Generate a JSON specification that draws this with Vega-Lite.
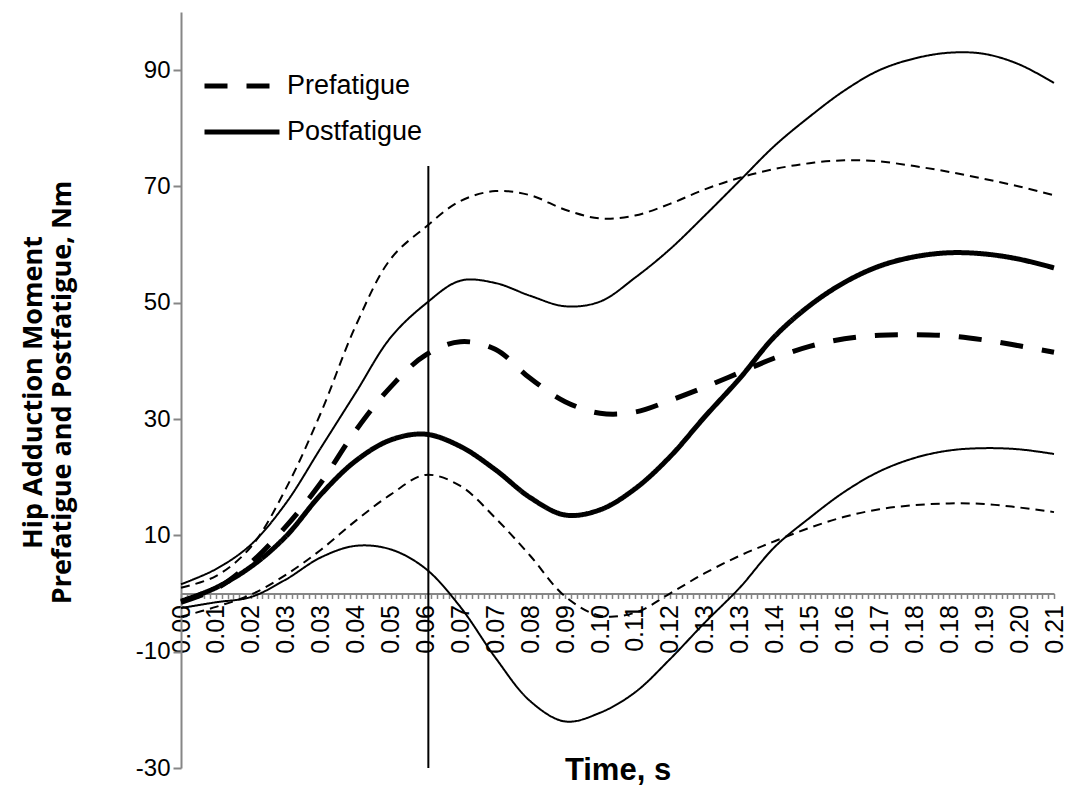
{
  "$schema": "https://vega.github.io/schema/vega-lite/v6.json",
  "width": 873,
  "height": 756,
  "autosize": {"type": "none"},
  "padding": {"left": 181, "top": 12, "right": 12, "bottom": 20},
  "background": "white",
  "config": {"view": {"stroke": null}, "font": "Liberation Sans"},
  "datasets": {
    "curves": [
      {"t": 0, "Prefatigue": -1.5, "Postfatigue": -1.3, "preHi": 1, "preLo": -4, "postHi": 1.6, "postLo": -2.5},
      {"t": 6, "Prefatigue": 0.8, "Postfatigue": 1, "preHi": 3, "preLo": -2.3, "postHi": 4.2, "postLo": -1.5},
      {"t": 12, "Prefatigue": 5.3, "Postfatigue": 4.6, "preHi": 8, "preLo": -0.2, "postHi": 8.4, "postLo": -0.6},
      {"t": 18, "Prefatigue": 11.5, "Postfatigue": 9.8, "preHi": 18, "preLo": 3.2, "postHi": 15.5, "postLo": 2.4},
      {"t": 24, "Prefatigue": 19, "Postfatigue": 17, "preHi": 31, "preLo": 7.5, "postHi": 25, "postLo": 6.2},
      {"t": 30, "Prefatigue": 28, "Postfatigue": 22.8, "preHi": 46, "preLo": 12.5, "postHi": 34.5, "postLo": 8.2},
      {"t": 36, "Prefatigue": 35.5, "Postfatigue": 26.4, "preHi": 57.5, "preLo": 17, "postHi": 44, "postLo": 7.6},
      {"t": 42, "Prefatigue": 41, "Postfatigue": 27.4, "preHi": 63, "preLo": 20.4, "postHi": 49.8, "postLo": 4.3},
      {"t": 48, "Prefatigue": 43.3, "Postfatigue": 25.3, "preHi": 67.5, "preLo": 18.5, "postHi": 53.8, "postLo": -2.3},
      {"t": 54, "Prefatigue": 42, "Postfatigue": 21.3, "preHi": 69.2, "preLo": 13, "postHi": 53.4, "postLo": -11},
      {"t": 60, "Prefatigue": 37, "Postfatigue": 16.5, "preHi": 68.5, "preLo": 6.5, "postHi": 51.2, "postLo": -18.5},
      {"t": 66, "Prefatigue": 33, "Postfatigue": 13.5, "preHi": 66, "preLo": -0.5, "postHi": 49.4, "postLo": -22},
      {"t": 72, "Prefatigue": 31, "Postfatigue": 14.4, "preHi": 64.5, "preLo": -3.8, "postHi": 50.2, "postLo": -20.5},
      {"t": 78, "Prefatigue": 31.2, "Postfatigue": 18, "preHi": 65, "preLo": -3.3, "postHi": 54.3, "postLo": -17},
      {"t": 84, "Prefatigue": 33.2, "Postfatigue": 23.5, "preHi": 67, "preLo": 0, "postHi": 59.2, "postLo": -11.3},
      {"t": 90, "Prefatigue": 35.5, "Postfatigue": 30.4, "preHi": 69.5, "preLo": 3.5, "postHi": 65, "postLo": -5},
      {"t": 96, "Prefatigue": 38, "Postfatigue": 37, "preHi": 71.5, "preLo": 6.5, "postHi": 71, "postLo": 1},
      {"t": 102, "Prefatigue": 40.5, "Postfatigue": 44.2, "preHi": 73, "preLo": 9, "postHi": 77, "postLo": 8},
      {"t": 108, "Prefatigue": 42.5, "Postfatigue": 49.5, "preHi": 74, "preLo": 11.3, "postHi": 82, "postLo": 13},
      {"t": 114, "Prefatigue": 43.8, "Postfatigue": 53.5, "preHi": 74.5, "preLo": 13.2, "postHi": 86.5, "postLo": 17.5},
      {"t": 120, "Prefatigue": 44.4, "Postfatigue": 56.3, "preHi": 74.3, "preLo": 14.5, "postHi": 90, "postLo": 21},
      {"t": 126, "Prefatigue": 44.5, "Postfatigue": 57.9, "preHi": 73.5, "preLo": 15.2, "postHi": 92, "postLo": 23.3},
      {"t": 132, "Prefatigue": 44.3, "Postfatigue": 58.6, "preHi": 72.5, "preLo": 15.5, "postHi": 93, "postLo": 24.6},
      {"t": 138, "Prefatigue": 43.6, "Postfatigue": 58.4, "preHi": 71.3, "preLo": 15.4, "postHi": 92.8, "postLo": 25},
      {"t": 144, "Prefatigue": 42.6, "Postfatigue": 57.5, "preHi": 70, "preLo": 14.8, "postHi": 91, "postLo": 24.8},
      {"t": 150, "Prefatigue": 41.5, "Postfatigue": 56, "preHi": 68.5, "preLo": 14, "postHi": 87.8, "postLo": 24}
    ],
    "marker": [{"t": 42.5, "v": -30, "v2": 73.5}]
  },
  "encoding": {
    "x": {
      "field": "t",
      "type": "quantitative",
      "scale": {"domain": [0, 150], "nice": false, "zero": false},
      "axis": {
        "values": [0,1,2,3,4,5,6,7,8,9,10,11,12,13,14,15,16,17,18,19,20,21,22,23,24,25,26,27,28,29,30,31,32,33,34,35,36,37,38,39,40,41,42,43,44,45,46,47,48,49,50,51,52,53,54,55,56,57,58,59,60,61,62,63,64,65,66,67,68,69,70,71,72,73,74,75,76,77,78,79,80,81,82,83,84,85,86,87,88,89,90,91,92,93,94,95,96,97,98,99,100,101,102,103,104,105,106,107,108,109,110,111,112,113,114,115,116,117,118,119,120,121,122,123,124,125,126,127,128,129,130,131,132,133,134,135,136,137,138,139,140,141,142,143,144,145,146,147,148,149,150],
        "labelExpr": "datum.value % 6 == 0 ? ['0.00','0.01','0.02','0.03','0.03','0.04','0.05','0.06','0.07','0.07','0.08','0.09','0.10','0.11','0.12','0.13','0.13','0.14','0.15','0.16','0.17','0.18','0.18','0.19','0.20','0.21'][datum.value / 6] : ''",
        "labelAngle": 270,
        "labelFont": "Liberation Sans",
        "labelFontSize": 25,
        "labelColor": "black",
        "labelOverlap": false,
        "labelBound": false,
        "labelFlush": false,
        "labelPadding": 6,
        "tickSize": 5,
        "tickColor": "#868686",
        "tickWidth": 1.5,
        "domainColor": "#868686",
        "domainWidth": 2,
        "grid": false,
        "offset": -174.5,
        "title": "Time, s",
        "titleFont": "Liberation Sans",
        "titleFontSize": 31,
        "titleFontWeight": "bold",
        "titleColor": "black",
        "titleBaseline": "alphabetic",
        "titleY": 186
      }
    },
    "y": {
      "field": "v",
      "type": "quantitative",
      "scale": {"domain": [-30, 100], "nice": false, "zero": false},
      "axis": {
        "values": [-30, -10, 10, 30, 50, 70, 90],
        "labelExpr": "'' + datum.value",
        "grid": false,
        "domainColor": "#868686",
        "domainWidth": 2,
        "tickColor": "#868686",
        "tickWidth": 2,
        "tickSize": 8,
        "labelFont": "Liberation Sans",
        "labelFontSize": 24,
        "labelColor": "black",
        "labelPadding": 3,
        "title": ["Hip Adduction Moment", "Prefatigue and Postfatigue, Nm"],
        "titleFont": "Open Sans",
        "titleFontSize": 27,
        "titleFontWeight": "bold",
        "titleColor": "black",
        "titleLineHeight": 29,
        "titleBaseline": "middle",
        "titleAlign": "center",
        "titleAngle": 270,
        "titleX": -148,
        "titleY": 380
      }
    }
  },
  "layer": [
    {
      "data": {"name": "curves"},
      "transform": [{"fold": ["preHi", "preLo", "postHi", "postLo"], "as": ["series", "v"]}],
      "mark": {"type": "line", "interpolate": "catmull-rom", "strokeWidth": 2, "color": "black", "strokeCap": "butt"},
      "encoding": {
        "detail": {"field": "series", "type": "nominal"},
        "strokeDash": {
          "field": "series",
          "type": "nominal",
          "scale": {"domain": ["preHi", "preLo", "postHi", "postLo"], "range": [[9, 6], [9, 6], [1, 0], [1, 0]]},
          "legend": null
        }
      }
    },
    {
      "data": {"name": "curves"},
      "transform": [{"fold": ["Prefatigue", "Postfatigue"], "as": ["group", "v"]}],
      "mark": {"type": "line", "interpolate": "catmull-rom", "strokeWidth": 5, "color": "black", "strokeCap": "butt"},
      "encoding": {
        "strokeDash": {
          "field": "group",
          "type": "nominal",
          "scale": {"domain": ["Prefatigue", "Postfatigue"], "range": [[23, 19], [1, 0]]},
          "legend": {
            "orient": "none",
            "legendX": 46,
            "legendY": 59,
            "title": null,
            "symbolType": "M-3,0L3,0",
            "symbolSize": 625,
            "symbolStrokeWidth": 5,
            "symbolStrokeColor": "black",
            "labelFont": "Liberation Sans",
            "labelFontSize": 27,
            "labelColor": "black",
            "labelOffset": 30,
            "rowPadding": 18
          }
        }
      }
    },
    {
      "data": {"name": "marker"},
      "mark": {"type": "rule", "color": "black", "strokeWidth": 2},
      "encoding": {"y2": {"field": "v2"}}
    }
  ],
  "resolve": {"scale": {"strokeDash": "independent"}}
}
